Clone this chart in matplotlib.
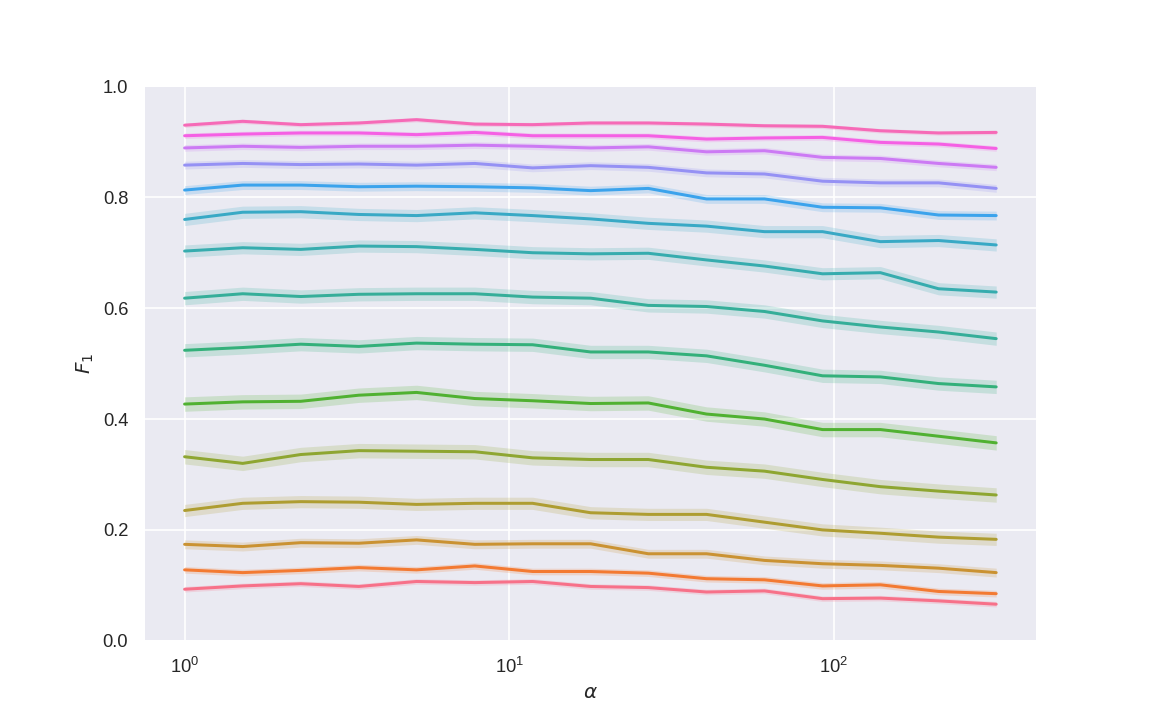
import matplotlib
matplotlib.use("Agg")
import matplotlib.pyplot as plt
import numpy as np
import seaborn as sns

sns.set_theme(style="darkgrid")
plt.rcParams['font.family'] = ['Liberation Sans', 'DejaVu Sans']

# alpha values (x axis, log scale)
alpha = [1.0, 1.51, 2.28, 3.44, 5.18, 7.83, 11.8, 17.8, 26.8, 40.5, 61.1, 92.2, 139.0, 210.0, 316.0]

# mean F1 per curve, bottom to top
f1_01 = [0.093, 0.099, 0.103, 0.098, 0.107, 0.105, 0.107, 0.098, 0.096, 0.088, 0.090, 0.076, 0.077, 0.072, 0.066]
f1_02 = [0.128, 0.123, 0.127, 0.132, 0.128, 0.135, 0.125, 0.125, 0.122, 0.112, 0.110, 0.099, 0.101, 0.089, 0.085]
f1_03 = [0.174, 0.170, 0.177, 0.176, 0.182, 0.174, 0.175, 0.175, 0.157, 0.157, 0.145, 0.139, 0.136, 0.131, 0.123]
f1_04 = [0.235, 0.248, 0.251, 0.250, 0.246, 0.248, 0.248, 0.231, 0.228, 0.228, 0.214, 0.200, 0.194, 0.187, 0.183]
f1_05 = [0.332, 0.320, 0.336, 0.343, 0.342, 0.341, 0.330, 0.327, 0.327, 0.313, 0.306, 0.291, 0.278, 0.270, 0.263]
f1_06 = [0.427, 0.431, 0.432, 0.443, 0.448, 0.437, 0.433, 0.428, 0.429, 0.409, 0.400, 0.381, 0.381, 0.369, 0.357]
f1_07 = [0.524, 0.529, 0.535, 0.531, 0.537, 0.535, 0.534, 0.521, 0.521, 0.514, 0.497, 0.478, 0.476, 0.464, 0.458]
f1_08 = [0.618, 0.626, 0.621, 0.625, 0.626, 0.626, 0.620, 0.618, 0.605, 0.603, 0.594, 0.577, 0.566, 0.557, 0.545]
f1_09 = [0.703, 0.709, 0.706, 0.712, 0.711, 0.706, 0.700, 0.698, 0.699, 0.687, 0.676, 0.662, 0.664, 0.635, 0.629]
f1_10 = [0.760, 0.773, 0.774, 0.769, 0.767, 0.772, 0.767, 0.761, 0.753, 0.748, 0.738, 0.738, 0.720, 0.722, 0.714]
f1_11 = [0.813, 0.822, 0.822, 0.819, 0.820, 0.819, 0.817, 0.812, 0.816, 0.797, 0.797, 0.782, 0.781, 0.768, 0.767]
f1_12 = [0.858, 0.861, 0.859, 0.860, 0.858, 0.861, 0.853, 0.857, 0.854, 0.844, 0.842, 0.829, 0.826, 0.826, 0.816]
f1_13 = [0.889, 0.892, 0.890, 0.892, 0.892, 0.894, 0.892, 0.889, 0.891, 0.882, 0.884, 0.872, 0.870, 0.861, 0.854]
f1_14 = [0.911, 0.914, 0.916, 0.916, 0.913, 0.917, 0.911, 0.911, 0.911, 0.905, 0.907, 0.908, 0.899, 0.896, 0.888]
f1_15 = [0.930, 0.937, 0.931, 0.934, 0.940, 0.932, 0.931, 0.934, 0.934, 0.932, 0.929, 0.928, 0.920, 0.916, 0.917]

curves = [f1_01, f1_02, f1_03, f1_04, f1_05, f1_06, f1_07, f1_08,
          f1_09, f1_10, f1_11, f1_12, f1_13, f1_14, f1_15]

# half width of the confidence band per curve
band = [0.005, 0.006, 0.008, 0.011, 0.013, 0.013, 0.012, 0.012,
        0.011, 0.011, 0.008, 0.007, 0.006, 0.005, 0.004]

colors = sns.color_palette("husl", len(curves))

fig, ax = plt.subplots(figsize=(9.6, 6), dpi=120)

for y, hw, c in zip(curves, band, colors):
    y = np.array(y)
    ax.fill_between(alpha, y - hw, y + hw, color=c, alpha=0.2, linewidth=0)
    ax.plot(alpha, y, color=c, linewidth=1.8)

ax.set_xscale("log")
ax.set_ylim(0, 1.0)
ax.set_xlabel(r"$\alpha$")
ax.set_ylabel(r"$F_1$")

fig.savefig("out.png", dpi=120)
